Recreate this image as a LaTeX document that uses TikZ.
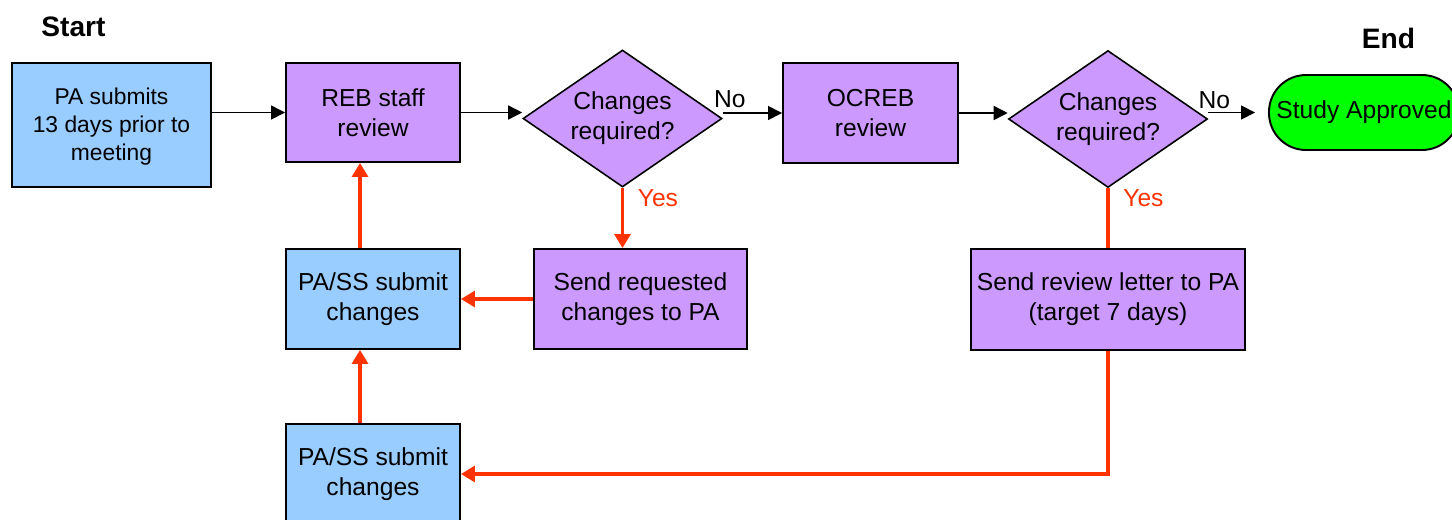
\documentclass[tikz,border=0pt]{standalone}
\usepackage{fontspec}
\setmainfont{Liberation Sans}
\usetikzlibrary{arrows.meta,shapes.geometric}
\definecolor{sky}{HTML}{99CCFF}
\definecolor{lilac}{HTML}{CC99FF}
\definecolor{go}{HTML}{00FF00}
\definecolor{alert}{HTML}{FF3300}
\newcommand{\BoxText}{\fontsize{14}{17}\selectfont}
\newcommand{\SmallBoxText}{\fontsize{13}{16}\selectfont}

\begin{document}
\begin{tikzpicture}[
    pabox/.style={draw=black, line width=1.1pt, fill=sky, align=center, inner sep=2pt, font=\BoxText},
    rebbox/.style={draw=black, line width=1.1pt, fill=lilac, align=center, inner sep=2pt, font=\BoxText},
    decide/.style={diamond, draw=black, line width=0.9pt, fill=lilac, align=center, inner sep=0pt, shape aspect=1.45, minimum width=3.98cm, minimum height=2.74cm, font=\BoxText},
    done/.style={draw=black, line width=1.1pt, fill=go, rounded corners=0.74cm, minimum width=3.8cm, minimum height=1.5cm, font=\BoxText},
    head/.style={font={\fontsize{16}{19}\selectfont\bfseries}},
    tag/.style={font=\BoxText, inner sep=0pt},
    flow/.style={-{Triangle[length=2.8mm,width=2.8mm]}, line width=0.85pt, draw=black},
    back/.style={-{Triangle[length=2.8mm,width=3.2mm]}, line width=1.8pt, draw=alert},
  ]
% --- Background --------------------------------------------------------------------
\fill[white] (0,0) rectangle (29.04,-10.38);
\useasboundingbox (0,0) rectangle (29.04,-10.38);

% --- Headings ----------------------------------------------------------------------
\node[head, anchor=base] (starthead) at (1.47,-0.72) {Start};
\node[head, anchor=base] (endhead) at (27.77,-0.96) {End};

% --- Top row -----------------------------------------------------------------------
\node[pabox, font=\SmallBoxText, minimum width=3.98cm, minimum height=2.48cm] (pa) at (2.23,-2.5) {\strut PA submits\\13 days prior to\\meeting};
\node[rebbox, minimum width=3.48cm, minimum height=1.98cm] (reb) at (7.46,-2.25) {REB staff\\review};
\node[decide] (d1) at (12.45,-2.37) {Changes\\required?};
\node[rebbox, minimum width=3.5cm, minimum height=2.0cm] (ocreb) at (17.41,-2.26) {OCREB\\review};
\node[decide] (d2) at (22.16,-2.38) {Changes\\required?};
\node[done] (approved) at (27.28,-2.25) {\strut Study Approved};

% --- Second row --------------------------------------------------------------------
\node[pabox, minimum width=3.48cm, minimum height=2.0cm] (pass1) at (7.46,-5.98) {PA/SS submit\\changes};
\node[rebbox, minimum width=4.26cm, minimum height=2.0cm] (send1) at (12.81,-5.98) {Send requested\\changes to PA};
\node[rebbox, minimum width=5.48cm, minimum height=2.02cm] (send2) at (22.16,-5.99) {Send review letter to PA\\(target 7 days)};

% --- Third row ---------------------------------------------------------------------
\node[pabox, minimum width=3.48cm, minimum height=2.0cm] (pass2) at (7.46,-9.48) {PA/SS submit\\changes};

% --- Labels ------------------------------------------------------------------------
\node[tag, anchor=base west] (no1) at ([xshift=-0.18cm,yshift=0.23cm]d1.east) {No};
\node[tag, anchor=base west] (no2) at ([xshift=-0.2cm,yshift=0.22cm]d2.east) {No};
\node[tag, text=alert, anchor=base west] (yes1) at ([xshift=0.3cm,yshift=-0.38cm]d1.south) {Yes};
\node[tag, text=alert, anchor=base west] (yes2) at ([xshift=0.3cm,yshift=-0.36cm]d2.south) {Yes};

% --- Flow (drawn last) -------------------------------------------------------------
\draw[flow] (pa.east |- reb.west) -- (reb.west);
\draw[flow] (reb.east) -- (reb.east -| d1.west);
\draw[flow] (ocreb.west -| d1.east) -- (ocreb.west);
\draw[flow] (ocreb.east) -- (ocreb.east -| d2.west);
\draw[flow] (approved.west -| d2.east) -- ([xshift=-0.26cm]approved.west);

% --- Changes loop ------------------------------------------------------------------
\draw[back] (d1.south) -- (d1.south |- send1.north);
\draw[back] (send1.west) -- (pass1.east);
\draw[back] ([xshift=-0.26cm]pass1.north) -- ([xshift=-0.26cm]reb.south);
\draw[back] ([xshift=-0.26cm]pass2.north) -- ([xshift=-0.26cm]pass1.south);
\draw[alert, line width=1.8pt] (d2.south) -- (d2.south |- send2.north);
\draw[back] (send2.south) |- (pass2.east);
\end{tikzpicture}
\end{document}
